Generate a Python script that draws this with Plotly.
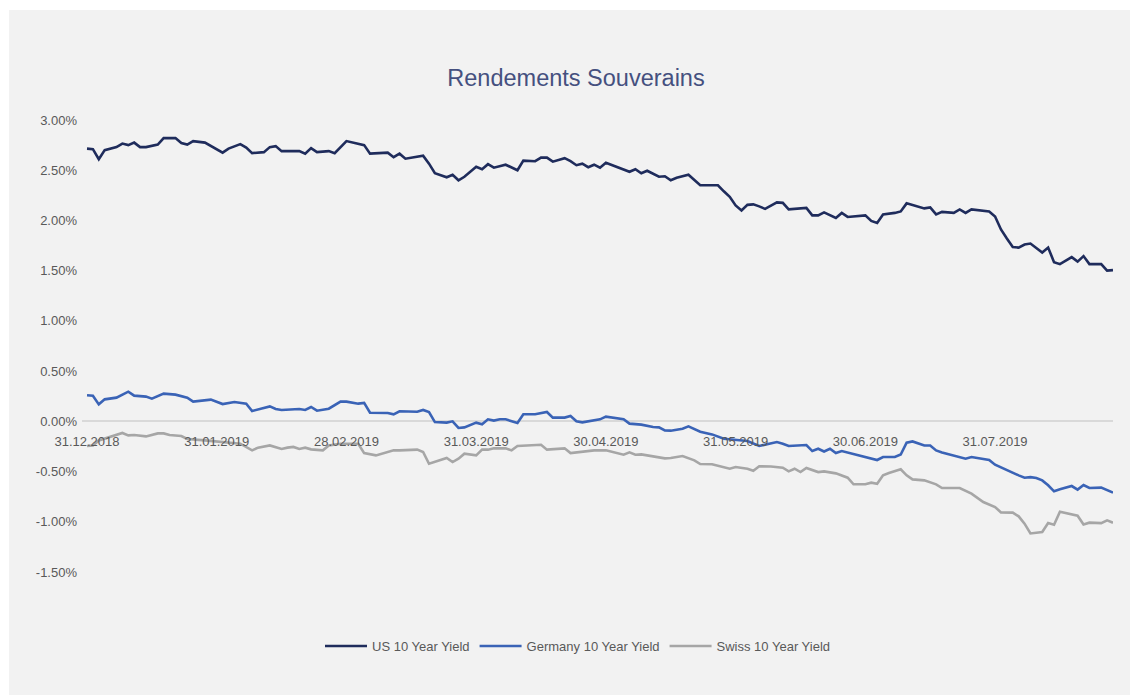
import plotly.graph_objects as go

# ---------------- data (yields in %) ----------------
us_day = [0, 1, 2, 3, 5, 6, 7, 8, 9, 10, 12, 13, 15, 16, 17, 18, 20, 23, 24, 26, 27, 28, 30, 31, 32, 33,
          36, 37, 38, 39, 41, 42, 44, 47, 48, 51, 52, 53, 54, 57, 58, 59, 61, 62, 63, 64, 66, 67, 68, 69,
          71, 73, 74, 76, 77, 78, 79, 81, 82, 83, 84, 85, 86, 87, 88, 92, 93, 94, 95, 97, 98, 99, 100,
          102, 104, 107, 108, 109, 110, 111, 112, 113, 114, 115, 117, 118, 119, 122, 123, 124, 125, 127,
          128, 129, 132, 133, 134, 135, 137, 138, 139, 142, 143, 144, 145, 147, 148, 149, 150, 153, 154,
          155, 156, 157, 158, 159, 160, 162, 163, 164, 165, 167, 168, 169, 170, 172, 173, 174]
us_yield = [2.715, 2.71, 2.61, 2.70, 2.73, 2.765, 2.75, 2.775, 2.73, 2.73, 2.755, 2.82, 2.82, 2.77, 2.755,
            2.79, 2.775, 2.675, 2.715, 2.76, 2.725, 2.67, 2.68, 2.73, 2.74, 2.69, 2.69, 2.665, 2.72, 2.68,
            2.69, 2.67, 2.79, 2.75, 2.665, 2.675, 2.63, 2.665, 2.615, 2.645, 2.565, 2.47, 2.43, 2.455,
            2.40, 2.435, 2.535, 2.51, 2.56, 2.525, 2.555, 2.50, 2.595, 2.59, 2.625, 2.625, 2.585, 2.62,
            2.59, 2.55, 2.565, 2.53, 2.555, 2.525, 2.575, 2.485, 2.51, 2.47, 2.495, 2.435, 2.44, 2.40,
            2.425, 2.455, 2.35, 2.35, 2.29, 2.235, 2.15, 2.10, 2.155, 2.16, 2.14, 2.115, 2.18, 2.175,
            2.11, 2.125, 2.05, 2.05, 2.08, 2.025, 2.075, 2.035, 2.05, 1.995, 1.975, 2.06, 2.075, 2.09,
            2.17, 2.12, 2.13, 2.06, 2.085, 2.075, 2.11, 2.075, 2.11, 2.09, 2.04, 1.91, 1.82, 1.735, 1.73,
            1.76, 1.77, 1.68, 1.73, 1.585, 1.565, 1.635, 1.59, 1.645, 1.565, 1.565, 1.50, 1.505]

de_day = [0, 1, 2, 3, 5, 7, 8, 10, 11, 13, 15, 17, 18, 21, 23, 25, 27, 28, 31, 32, 33, 36, 37, 38, 39,
          41, 43, 44, 46, 47, 48, 51, 52, 53, 56, 57, 58, 59, 61, 62, 63, 64, 66, 67, 68, 69, 70, 71, 73,
          74, 76, 78, 79, 81, 82, 83, 84, 87, 88, 90, 91, 92, 94, 96, 97, 98, 99, 101, 102, 104, 106,
          108, 112, 114, 115, 116, 117, 118, 119, 122, 123, 124, 125, 126, 127, 128, 132, 134, 135, 137,
          138, 139, 140, 142, 143, 144, 145, 148, 149, 150, 151, 153, 154, 155, 156, 157, 158, 159, 160,
          161, 162, 163, 164, 165, 167, 168, 169, 170, 172, 174]
de_yield = [0.259, 0.255, 0.169, 0.219, 0.236, 0.295, 0.256, 0.246, 0.226, 0.276, 0.266, 0.236, 0.196,
            0.216, 0.172, 0.193, 0.176, 0.103, 0.149, 0.123, 0.113, 0.123, 0.113, 0.143, 0.106, 0.126,
            0.196, 0.196, 0.176, 0.183, 0.086, 0.083, 0.07, 0.10, 0.096, 0.113, 0.093, -0.007, -0.013,
            0.0, -0.066, -0.060, -0.013, -0.03, 0.02, 0.007, 0.02, 0.02, -0.017, 0.07, 0.07, 0.093,
            0.037, 0.037, 0.053, 0.0, -0.01, 0.02, 0.047, 0.03, 0.02, -0.023, -0.033, -0.056, -0.06,
            -0.09, -0.093, -0.073, -0.05, -0.103, -0.13, -0.173, -0.196, -0.245, -0.23, -0.216, -0.206,
            -0.223, -0.246, -0.236, -0.296, -0.273, -0.30, -0.273, -0.316, -0.296, -0.355, -0.385,
            -0.355, -0.355, -0.33, -0.213, -0.20, -0.24, -0.24, -0.29, -0.31, -0.355, -0.372, -0.355,
            -0.365, -0.385, -0.432, -0.46, -0.482, -0.512, -0.538, -0.561, -0.556, -0.565, -0.588,
            -0.637, -0.697, -0.677, -0.644, -0.68, -0.634, -0.664, -0.66, -0.71]

ch_day = [0, 1, 2, 6, 7, 8, 10, 12, 13, 14, 16, 17, 20, 24, 26, 28, 29, 31, 33, 34, 35, 36, 37, 38, 40,
          41, 43, 46, 47, 49, 52, 53, 56, 57, 58, 61, 62, 63, 64, 66, 67, 68, 69, 71, 72, 73, 76, 77, 78,
          81, 82, 83, 86, 88, 90, 91, 92, 93, 94, 97, 98, 99, 100, 101, 103, 104, 106, 109, 110, 112,
          113, 114, 116, 118, 119, 120, 121, 122, 124, 125, 127, 129, 130, 132, 133, 134, 135, 136, 138,
          139, 140, 142, 144, 145, 148, 150, 152, 154, 155, 157, 158, 159, 160, 162, 163, 164, 165, 168,
          169, 170, 172, 173, 174]
ch_yield = [-0.246, -0.24, -0.19, -0.116, -0.14, -0.136, -0.15, -0.12, -0.12, -0.136, -0.146, -0.176,
            -0.19, -0.213, -0.223, -0.289, -0.262, -0.24, -0.275, -0.262, -0.255, -0.275, -0.262,
            -0.279, -0.289, -0.24, -0.223, -0.223, -0.316, -0.339, -0.289, -0.289, -0.282, -0.305,
            -0.422, -0.365, -0.405, -0.372, -0.322, -0.339, -0.282, -0.282, -0.269, -0.269, -0.289,
            -0.246, -0.24, -0.233, -0.282, -0.269, -0.316, -0.309, -0.289, -0.289, -0.316, -0.332,
            -0.309, -0.332, -0.329, -0.355, -0.369, -0.365, -0.352, -0.345, -0.388, -0.425, -0.428,
            -0.472, -0.455, -0.472, -0.492, -0.448, -0.45, -0.462, -0.498, -0.472, -0.505, -0.465,
            -0.505, -0.498, -0.518, -0.561, -0.627, -0.627, -0.611, -0.621, -0.538, -0.515, -0.478,
            -0.538, -0.578, -0.588, -0.627, -0.664, -0.664, -0.72, -0.803, -0.853, -0.906, -0.909,
            -0.946, -1.019, -1.116, -1.102, -1.013, -1.029, -0.90, -0.94, -1.026, -1.009, -1.013,
            -0.986, -1.009]

x_tick_days = [0, 22, 44, 66, 88, 110, 132, 154]
x_tick_labels = ["31.12.2018", "31.01.2019", "28.02.2019", "31.03.2019",
                 "30.04.2019", "31.05.2019", "30.06.2019", "31.07.2019"]
y_tick_values = [-1.5, -1.0, -0.5, 0.0, 0.5, 1.0, 1.5, 2.0, 2.5, 3.0]
y_tick_labels = ["-1.50%", "-1.00%", "-0.50%", "0.00%", "0.50%", "1.00%",
                 "1.50%", "2.00%", "2.50%", "3.00%"]

series_names = ["US 10 Year Yield", "Germany 10 Year Yield", "Swiss 10 Year Yield"]
colors = ["#1f2c5c", "#3a63b6", "#a6a6a6"]

# ---------------- figure ----------------
FONT = "Liberation Sans, Arial, Helvetica, sans-serif"
W, H = 1130, 695
L, R, T, B = 82, 17, 120, 123
y_min, y_max = -1.5, 3.0
x_min, x_max = -0.85, 174

fig = go.Figure()
for name, xs, ys, c in zip(series_names, [us_day, de_day, ch_day],
                           [us_yield, de_yield, ch_yield], colors):
    fig.add_trace(go.Scatter(x=xs, y=ys, mode="lines", name=name,
                             line=dict(color=c, width=2.6, shape="linear"),
                             cliponaxis=False))

plot_w = W - L - R
plot_h = H - T - B

def px_to_paper_x(px):
    return (px - L) / plot_w

def px_to_paper_y(py):
    return (H - B - py) / plot_h

fig.update_layout(
    width=W, height=H,
    margin=dict(l=L, r=R, t=T, b=B),
    paper_bgcolor="white",
    plot_bgcolor="rgba(0,0,0,0)",
    font=dict(family=FONT, size=13, color="#595959"),
    title=dict(text="Rendements Souverains", xref="container", x=576 / W,
               xanchor="center", y=1 - 78 / H, yanchor="middle",
               font=dict(family=FONT, size=23.5, color="#45507f")),
    showlegend=True,
    legend=dict(orientation="h", x=px_to_paper_x(578), xanchor="center",
                y=px_to_paper_y(646), yanchor="middle",
                font=dict(family=FONT, size=13, color="#595959"),
                bgcolor="rgba(0,0,0,0)", itemwidth=42, traceorder="normal"),
    shapes=[dict(type="rect", xref="paper", yref="paper",
                 x0=px_to_paper_x(9), x1=px_to_paper_x(W + 5),
                 y0=px_to_paper_y(H + 5), y1=px_to_paper_y(10),
                 fillcolor="#f2f2f2", line=dict(width=0), layer="below")],
    xaxis=dict(range=[x_min, x_max], showgrid=False, zeroline=False, showline=False,
               tickmode="array", tickvals=x_tick_days, ticktext=x_tick_labels,
               ticks="", anchor="free",
               position=(0 - y_min) / (y_max - y_min),
               ticklabelstandoff=11,
               tickfont=dict(family=FONT, size=13, color="#595959")),
    yaxis=dict(range=[y_min, y_max], showgrid=False, zeroline=True,
               zerolinecolor="#d9d9d9", zerolinewidth=2, showline=False,
               tickmode="array", tickvals=y_tick_values, ticktext=y_tick_labels,
               ticks="", ticklabelstandoff=4,
               tickfont=dict(family=FONT, size=13, color="#595959")),
)

fig.write_html("out.html")
